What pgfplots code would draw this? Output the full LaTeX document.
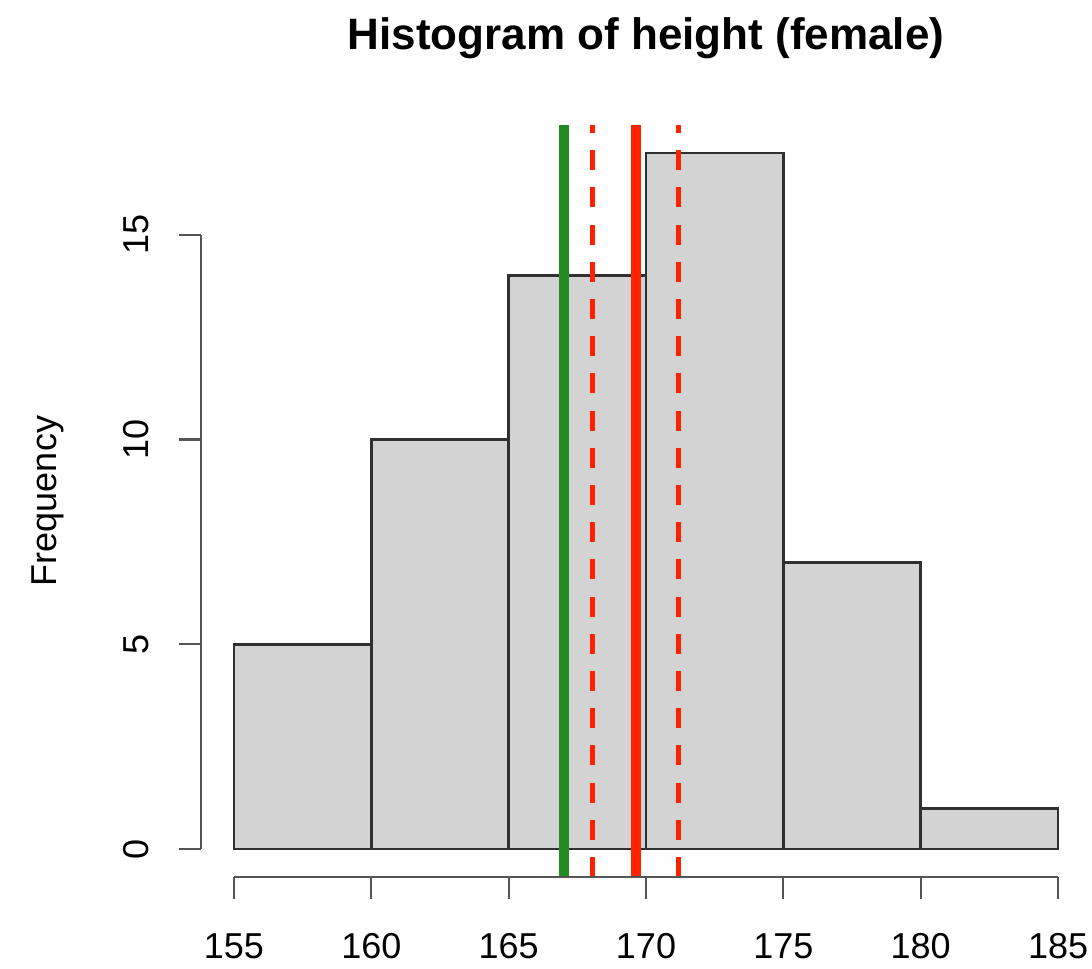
\documentclass[border=0pt]{standalone}
\usepackage{fontspec}
\setmainfont{Liberation Sans}
\usepackage{pgfplots}
\pgfplotsset{compat=1.18}
\definecolor{barfill}{HTML}{D3D3D3}
\definecolor{baredge}{HTML}{303030}
\definecolor{axgray}{HTML}{555555}
\definecolor{rgreen}{HTML}{228B22}
\definecolor{rred}{HTML}{FF2200}
\begin{document}
\begin{tikzpicture}
\begin{axis}[
  scale only axis, width=445pt, height=376pt,
  xmin=153.8, xmax=186.2, ymin=-0.68, ymax=17.68,
  axis x line*=bottom, axis y line*=left,
  axis line style={draw=none},
  xtick={155,160,165,170,175,180,185}, ytick={0,5,10,15},
  tick align=outside, major tick length=11pt,
  tick style={draw=axgray, line width=1.1pt},
  minor tick num=0,
  /pgf/number format/assume math mode=true,
  /pgf/number format/1000 sep={},
  tick label style={font=\fontsize{18}{21}\selectfont, inner sep=0pt},
  xticklabel style={anchor=base},
  xticklabel shift=29.5pt,
  yticklabel style={rotate=90, anchor=base},
  yticklabel shift=15pt,
  every axis title/.style={at={(axis description cs:0.5,1.0997)}, anchor=base, font=\bfseries\fontsize{22}{26}\selectfont},
  title={Histogram of height (female)},
  every axis y label/.style={at={(axis description cs:-0.1618,0.5)}, rotate=90, anchor=base, font=\fontsize{18}{21}\selectfont},
  ylabel={Frequency},
  clip=false,
]
\addplot[ybar interval, fill=barfill, draw=baredge, line width=1.3pt]
  coordinates {(155,5) (160,10) (165,14) (170,17) (175,7) (180,1) (185,1)};
\addplot[rgreen, line width=5pt] coordinates {(167,-0.68) (167,17.68)};
\addplot[rred, line width=2.5pt, dash pattern=on 10pt off 8.6pt] coordinates {(168.05,-0.68) (168.05,17.68)};
\addplot[rred, line width=5pt] coordinates {(169.62,-0.68) (169.62,17.68)};
\addplot[rred, line width=2.5pt, dash pattern=on 10pt off 8.6pt] coordinates {(171.18,-0.68) (171.18,17.68)};
\draw[axgray, line width=1.1pt] (axis cs:155,-0.68) -- (axis cs:185,-0.68);
\draw[axgray, line width=1.1pt] (axis cs:153.8,0) -- (axis cs:153.8,15);
\path (axis description cs:-0.2258,-0.1210) rectangle (axis description cs:1.0011,1.1662);
\end{axis}
\end{tikzpicture}
\end{document}
